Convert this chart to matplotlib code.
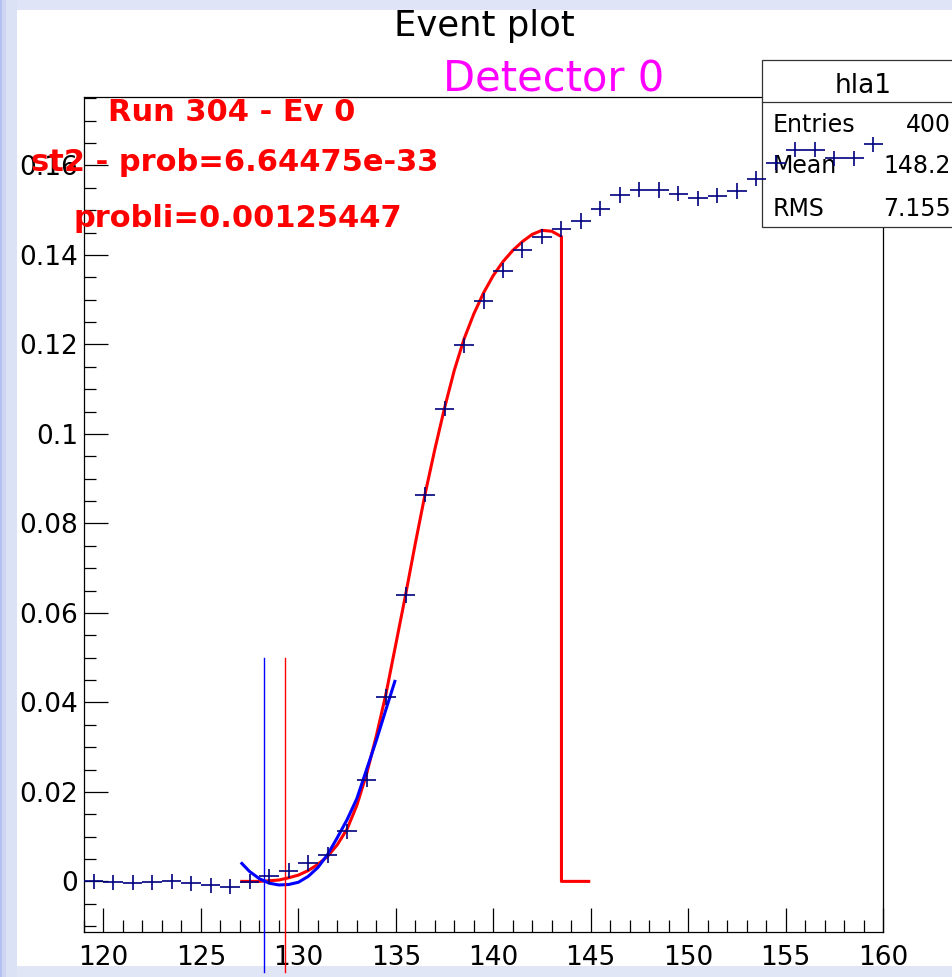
import matplotlib
matplotlib.use("Agg")
import matplotlib.pyplot as plt
from matplotlib.patches import Rectangle
from matplotlib.ticker import MultipleLocator, FixedLocator, FixedFormatter

# ---- data -----------------------------------------------------------------
bin_centers = [119.5 + i for i in range(41)]
bin_values = [0.0000, -0.0002, -0.0003, -0.0002, 0.0000, -0.0004, -0.0009, -0.0012,
              -0.0001, 0.0011, 0.0024, 0.0041, 0.0059, 0.0112, 0.0227, 0.0412,
              0.0640, 0.0864, 0.1056, 0.1198, 0.1297, 0.1365, 0.1411, 0.1441,
              0.1458, 0.1476, 0.1503, 0.1534, 0.1546, 0.1545, 0.1537, 0.1527,
              0.1532, 0.1543, 0.1570, 0.1606, 0.1635, 0.1635, 0.1616, 0.1616,
              0.1647]
bin_xerr = 0.5
bin_yerr = 0.0017

# signal fit (red) and baseline/onset fit (blue)
fit_x = [127.1, 128.0, 129.0, 129.5, 130.0, 130.5, 131.0, 131.5, 132.0, 132.5,
         133.0, 133.5, 134.0, 134.5, 135.0, 135.5, 136.0, 136.5, 137.0, 137.5,
         138.0, 138.5, 139.0, 139.5, 140.0, 140.5, 141.0, 141.5, 142.0, 142.5,
         143.0, 143.5, 143.5, 144.9]
fit_y = [0.0000, 0.0000, 0.0003, 0.0008, 0.0014, 0.0024, 0.0038, 0.0056, 0.0082, 0.0117,
         0.0170, 0.0240, 0.0325, 0.0420, 0.0530, 0.0640, 0.0755, 0.0865, 0.0965, 0.1058,
         0.1142, 0.1212, 0.1268, 0.1315, 0.1354, 0.1385, 0.1410, 0.1430, 0.1446, 0.1455,
         0.1453, 0.1441, 0.0000, 0.0000]
onset_x = [127.1, 127.5, 128.0, 128.5, 129.0, 129.5, 130.0, 130.5, 131.0, 131.5,
           132.0, 132.5, 133.0, 133.5, 134.0, 134.5, 134.95]
onset_y = [0.0040, 0.0022, 0.0006, -0.0004, -0.0008, -0.0007, -0.0002, 0.0011, 0.0031,
           0.0060, 0.0098, 0.0138, 0.0185, 0.0250, 0.0315, 0.0385, 0.0447]

t_onset_blue = 128.22
t_onset_red = 129.33
marker_range = (-0.0203, 0.05)

x_ticks = [120, 125, 130, 135, 140, 145, 150, 155, 160]
y_ticks = [0.0, 0.02, 0.04, 0.06, 0.08, 0.10, 0.12, 0.14, 0.16]
y_tick_labels = ["0", "0.02", "0.04", "0.06", "0.08", "0.1", "0.12", "0.14", "0.16"]

stats_name = "hla1"
stats_rows = [("Entries", "400"), ("Mean", "148.2"), ("RMS", "7.155")]

# ---- figure ---------------------------------------------------------------
W, H = 953, 977
plt.rcParams["font.family"] = ["DejaVu Sans"]
fig = plt.figure(figsize=(W / 100, H / 100), dpi=100)
fig.patch.set_facecolor("white")

# pixel-space background layer (window frame around the canvas)
bg = fig.add_axes([0, 0, 1, 1], zorder=-5)
bg.set_xlim(0, W)
bg.set_ylim(H, 0)
bg.axis("off")
bg.add_patch(Rectangle((0, 0), W, 9.5, color="#dfe4f6", lw=0))
bg.add_patch(Rectangle((0, 966), W, 11, color="#e1e6f6", lw=0))
bg.add_patch(Rectangle((0, 0), 17, H, color="#dce2f6", lw=0))
bg.add_patch(Rectangle((0, 0), 6, H, color="#cdd5f3", lw=0))
bg.add_patch(Rectangle((0, 0), 2.5, H, color="#b3bfee", lw=0))


def fx(px):
    return px / W


def fy(py):
    return 1 - py / H


# main frame
x0, x1, ytop, ybot = 84, 883, 97, 931.5
ax = fig.add_axes([fx(x0), fy(ybot), fx(x1) - fx(x0), fy(ytop) - fy(ybot)])
ax.set_facecolor("none")
ax.set_xlim(119, 160)
ax.set_ylim(-0.0112, 0.1753)

for s in ax.spines.values():
    s.set_linewidth(0.9)
    s.set_color("black")

ax.xaxis.set_major_locator(FixedLocator(x_ticks))
ax.xaxis.set_minor_locator(MultipleLocator(1))
ax.yaxis.set_major_locator(FixedLocator(y_ticks))
ax.yaxis.set_major_formatter(FixedFormatter(y_tick_labels))
ax.yaxis.set_minor_locator(MultipleLocator(0.005))
ax.tick_params(which="both", direction="in", top=False, right=False, width=0.9,
               colors="black", labelsize=19)
ax.tick_params(which="major", length=17)
ax.tick_params(which="minor", length=8.5)
ax.tick_params(axis="x", which="major", pad=10)
ax.tick_params(axis="y", which="major", pad=4.5)

# fit curves
ax.plot(fit_x, fit_y, color="#ff0000", lw=2.2, zorder=4, solid_joinstyle="round")
ax.plot(onset_x, onset_y, color="#0000ff", lw=2.2, zorder=4, solid_joinstyle="round")

# onset markers
ax.plot([t_onset_blue, t_onset_blue], marker_range, color="#0000ff", lw=1.0,
        clip_on=False, zorder=4)
ax.plot([t_onset_red, t_onset_red], marker_range, color="#ff0000", lw=1.0,
        clip_on=False, zorder=4)

# histogram points
ax.errorbar(bin_centers, bin_values, xerr=bin_xerr, yerr=bin_yerr, fmt="none",
            ecolor="#00007f", elinewidth=1.2, capsize=0, zorder=6, clip_on=False)

# stats box (white, drawn over the frame but under the points)
bx0, by0, by1, bdiv = 762.5, 60, 226.7, 101.7
ax.add_patch(Rectangle((bx0, by0), W - bx0 + 5, by1 - by0, transform=bg.transData,
                       facecolor="white", edgecolor="#333333", lw=0.9, clip_on=False,
                       zorder=3))
ax.plot([bx0, W], [bdiv, bdiv], transform=bg.transData, color="#333333", lw=0.9,
        clip_on=False, zorder=3)
ax.text(863, 93.3, stats_name, transform=bg.transData, fontsize=19, ha="center",
        va="baseline", zorder=3.5)
row_baselines = [131.7, 173.3, 215.7]
for (lab, val), yb in zip(stats_rows, row_baselines):
    ax.text(773, yb, lab, transform=bg.transData, fontsize=17, ha="left",
            va="baseline", zorder=3.5)
    ax.text(951, yb, val, transform=bg.transData, fontsize=17, ha="right",
            va="baseline", zorder=3.5)

# titles
fig.text(fx(484), fy(36), "Event plot", fontsize=25.5, ha="center", va="baseline",
         color="black")
fig.text(fx(554), fy(91.7), "Detector 0", fontsize=30, ha="center", va="baseline",
         color="#ff00ff")

# run annotations
fig.text(fx(108), fy(120.7), "Run 304 - Ev 0", fontsize=22, fontweight="bold",
         color="#ff0000", ha="left", va="baseline")
fig.text(fx(30.7), fy(170.7), "st2 - prob=6.64475e-33", fontsize=22, fontweight="bold",
         color="#ff0000", ha="left", va="baseline")
fig.text(fx(74), fy(227.3), "probli=0.00125447", fontsize=22, fontweight="bold",
         color="#ff0000", ha="left", va="baseline")

fig.savefig("out.png", dpi=100, facecolor=fig.get_facecolor())
